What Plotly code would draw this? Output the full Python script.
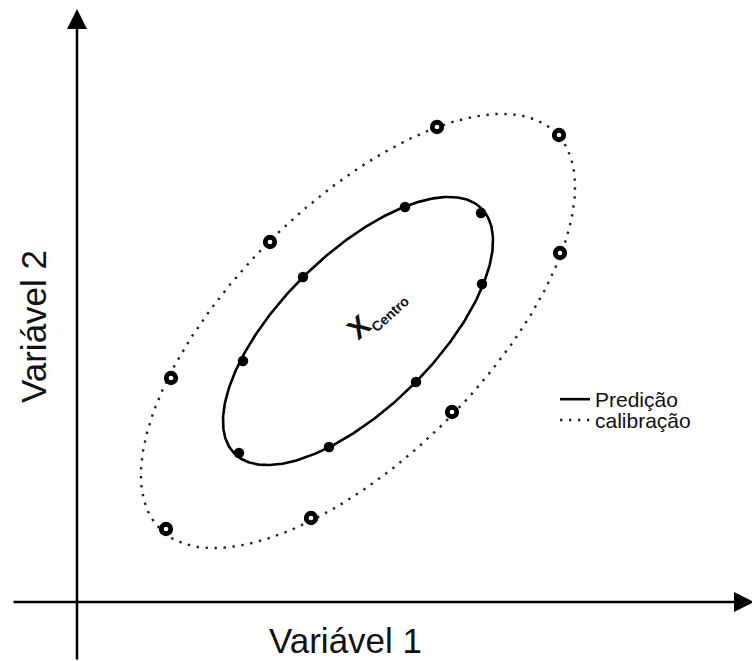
import numpy as np
import plotly.graph_objects as go

# Coordinates: origin where the two variable axes cross
x_range = [-77, 675]
y_range = [-59, 602]

# Prediction samples (filled points on the inner ellipse)
pred_x = [328, 404, 405, 226, 166, 339, 252, 162]
pred_y = [395, 389, 318, 325, 241, 220, 155, 149]

# Calibration samples (open points on the outer ellipse)
cal_x = [360, 482, 193, 483, 94, 375, 234, 89]
cal_y = [475, 467, 360, 349, 224, 190, 84, 73]

# Common centre and ellipse geometry (semi-axes, tilt in degrees)
center = (281, 271)
pred_ellipse = dict(a=174, b=77, angle=44.7)
cal_ellipse = dict(a=280, b=126, angle=45.0)

legend_names = ["Predição", "calibração"]
FONT = "Liberation Sans, Arial, sans-serif"


def ellipse_xy(a, b, angle, n=400):
    t = np.linspace(0, 2 * np.pi, n)
    th = np.radians(angle)
    ex = a * np.cos(t)
    ey = b * np.sin(t)
    x = center[0] + ex * np.cos(th) - ey * np.sin(th)
    y = center[1] + ex * np.sin(th) + ey * np.cos(th)
    return x, y


fig = go.Figure()

px_, py_ = ellipse_xy(**pred_ellipse)
fig.add_trace(go.Scatter(x=px_, y=py_, mode="lines", name=legend_names[0],
                         legend="legend",
                         line=dict(color="black", width=2.6)))

cx_, cy_ = ellipse_xy(**cal_ellipse)
fig.add_trace(go.Scatter(x=cx_, y=cy_, mode="lines", name=legend_names[1],
                         legend="legend2",
                         line=dict(color="#222222", width=2.4, dash="2.4px,6.6px")))

fig.add_trace(go.Scatter(x=pred_x, y=pred_y, mode="markers", showlegend=False,
                         marker=dict(color="black", size=10.5, line=dict(width=0))))

fig.add_trace(go.Scatter(x=cal_x, y=cal_y, mode="markers", showlegend=False,
                         marker=dict(color="white", size=9.5,
                                     line=dict(color="black", width=4.8))))

# Axes drawn as arrows
axis_arrow = dict(text="", showarrow=True, arrowhead=2, arrowsize=1.6,
                  arrowwidth=2.5, arrowcolor="black", xref="x", yref="y",
                  axref="x", ayref="y", standoff=0)
fig.add_annotation(x=0, y=593, ax=0, ay=y_range[0], **axis_arrow)
fig.add_annotation(x=x_range[1] + 2, y=0, ax=-65, ay=0, **axis_arrow)

# Axis titles
fig.add_annotation(x=268, y=-38, xref="x", yref="y", text="Variável 1",
                   showarrow=False, font=dict(family=FONT, size=35, color="#111"))
fig.add_annotation(x=-44, y=275, xref="x", yref="y", text="Variável 2",
                   textangle=-90, showarrow=False,
                   font=dict(family=FONT, size=35, color="#111"))

# Centre label
fig.add_annotation(x=299, y=289, xref="x", yref="y",
                   text="<b>X</b><sub><span style=\"font-size:14px\"><b>Centro</b></span></sub>",
                   textangle=-42, showarrow=False,
                   font=dict(family=FONT, size=29, color="#111"))

fig.update_xaxes(range=x_range, visible=False)
fig.update_yaxes(range=y_range, visible=False)

legend_style = dict(xanchor="left", yanchor="top",
                    bgcolor="rgba(0,0,0,0)", borderwidth=0,
                    font=dict(family=FONT, size=21, color="#111"),
                    itemwidth=30)

fig.update_layout(
    width=752, height=661,
    margin=dict(l=0, r=0, t=0, b=0),
    paper_bgcolor="white", plot_bgcolor="white",
    showlegend=True,
    legend=dict(x=0.738, y=0.4266, **legend_style),
    legend2=dict(x=0.738, y=0.395, **legend_style),
)

fig.write_html("out.html")
